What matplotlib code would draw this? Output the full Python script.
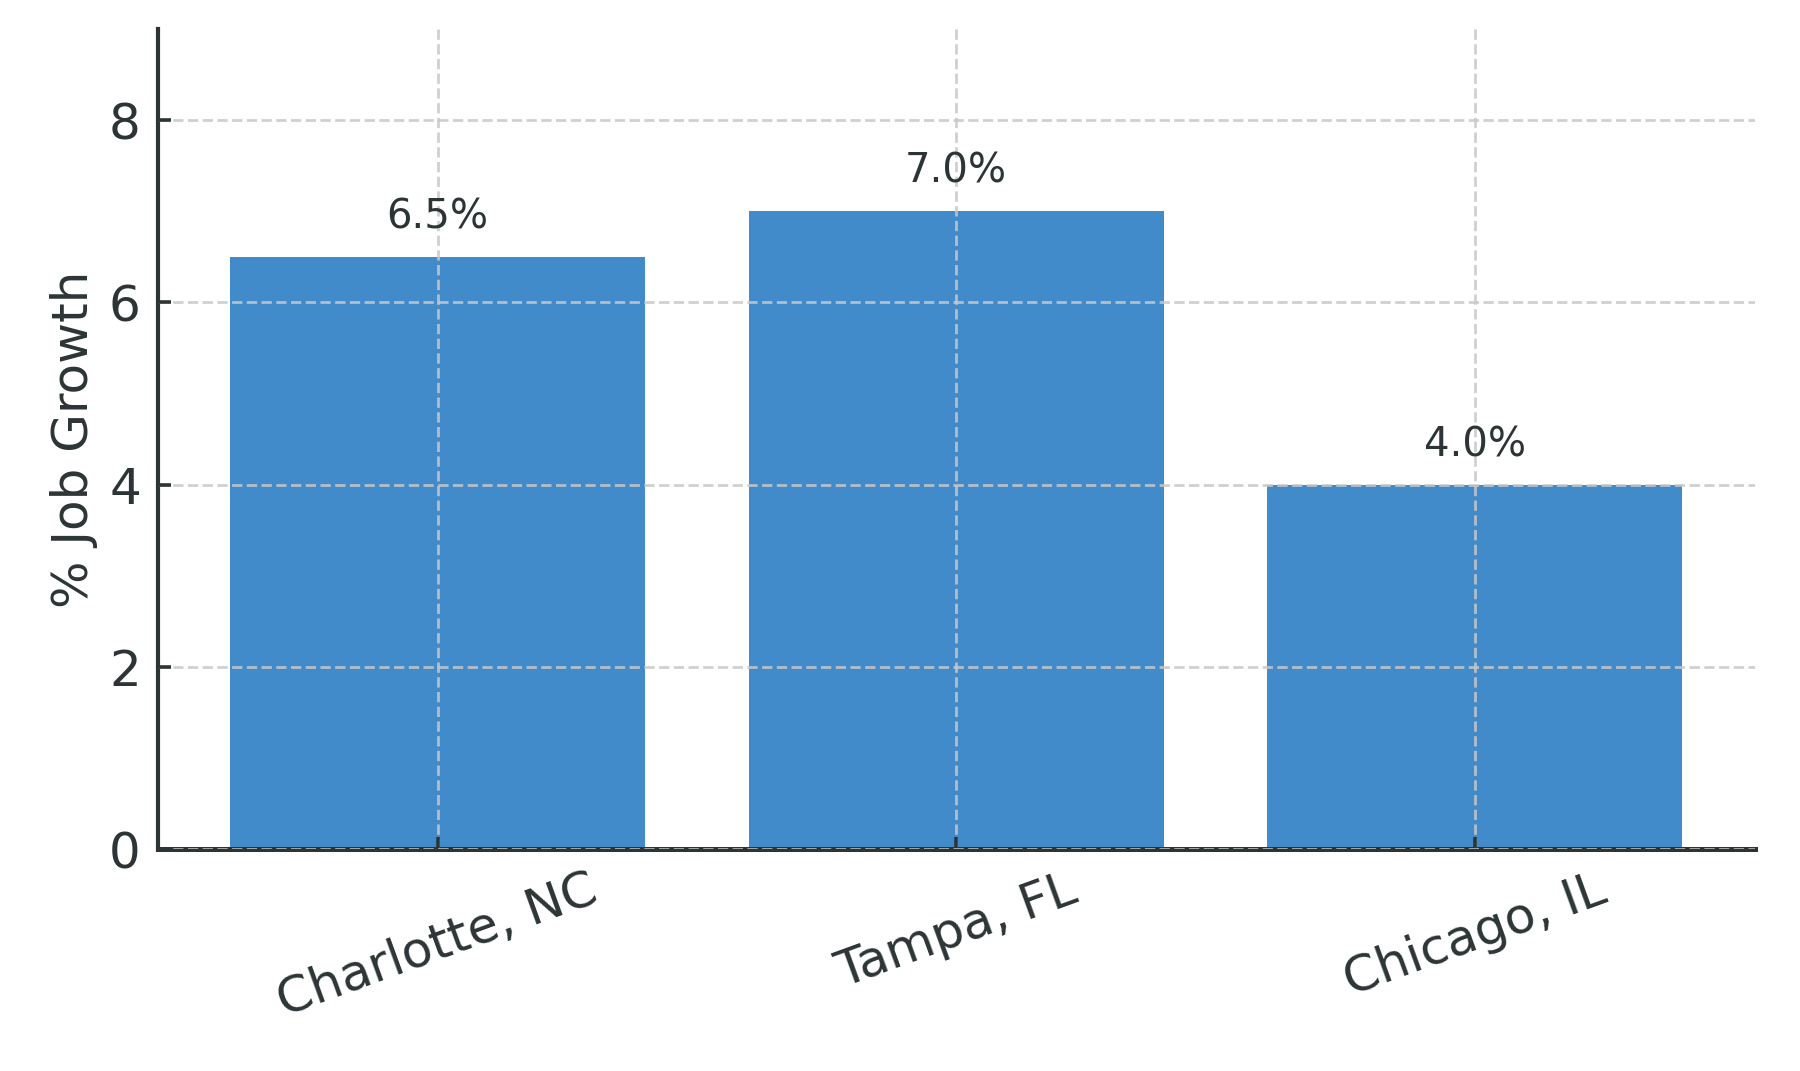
import numpy as np
import matplotlib
matplotlib.use('Agg')
import matplotlib.pyplot as plt

# data
cities = ['Charlotte, NC', 'Tampa, FL', 'Chicago, IL']
job_growth = [6.5, 7.0, 4.0]
y_ticks = [0, 2, 4, 6, 8]

text_color = '#2d3436'
bar_color = '#418bca'

plt.rcParams['font.family'] = ['DejaVu Sans']

fig, ax = plt.subplots(figsize=(9, 5.355), dpi=200)

x = np.arange(len(cities))
bars = ax.bar(x, job_growth, width=0.8, color=bar_color, zorder=1)

# value labels
for xi, v in zip(x, job_growth):
    ax.annotate(f'{v:.1f}%', (xi, v), xytext=(0, 7), textcoords='offset points',
                ha='center', va='bottom', fontsize=14.5, color=text_color)

ax.set_ylim(0, 9)
ax.set_yticks(y_ticks)
ax.set_xticks(x)
ax.set_xticklabels(cities, rotation=20)
ax.set_ylabel('% Job Growth', fontsize=18, color=text_color)

ax.grid(True, linestyle='--', color='#c8c8c8', linewidth=1.0, alpha=0.85, zorder=3)
ax.set_axisbelow(False)

for s in ['top', 'right']:
    ax.spines[s].set_visible(False)
ax.spines['left'].set_linewidth(1.5)
ax.spines['bottom'].set_linewidth(1.8)
ax.spines['left'].set_color(text_color)
ax.spines['bottom'].set_color(text_color)

ax.tick_params(axis='both', direction='in', length=4.5, width=1.3, colors=text_color,
               labelsize=18, pad=6)

fig.subplots_adjust(left=0.0875, right=0.975, top=0.973, bottom=0.207)
plt.savefig('out.png', dpi=200)
